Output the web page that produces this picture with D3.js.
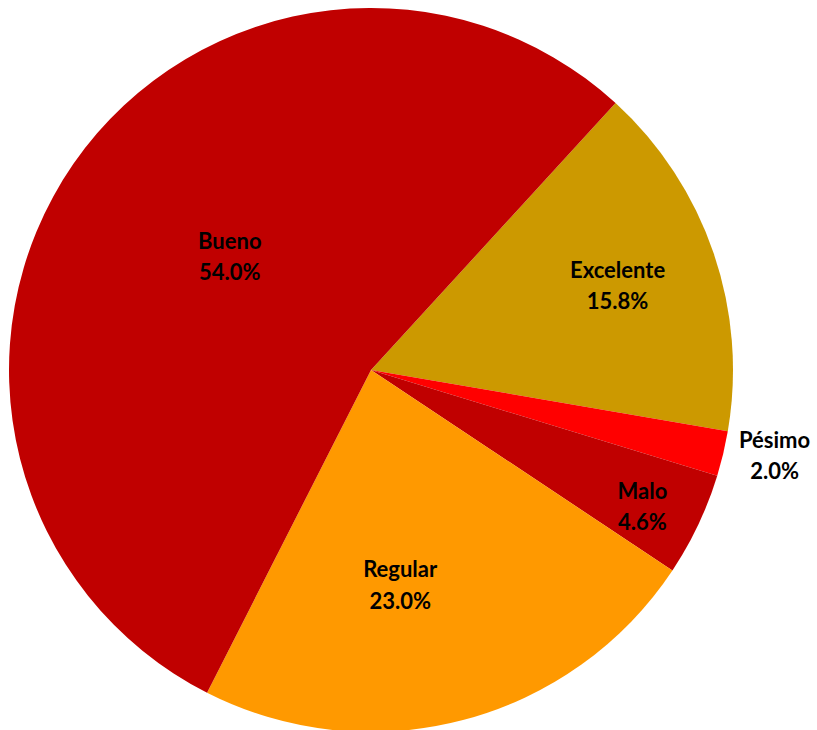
<!DOCTYPE html>
<html>
<head>
<meta charset="utf-8">
<script src="https://cdn.jsdelivr.net/npm/d3@7"></script>
<style>
  body { margin: 0; background: #fff; }
  svg { display: block; }
  .lbl { font-family: Lato, "Open Sans", sans-serif; font-weight: bold; font-size: 22px; fill: #000; }
</style>
</head>
<body>
<svg id="canvas" width="817" height="730"></svg>
<script>
// data, clockwise from the Excelente slice
let categories = ['Excelente', 'Pésimo', 'Malo', 'Regular', 'Bueno'];
let values = [15.8, 2.0, 4.6, 23.0, 54.0];
let colors = ['#CC9900', '#FF0000', '#C00000', '#FF9900', '#C00000'];

let width = 817, height = 730;
let cx = 371, cy = 370, radius = 362;

// label distance from centre as a fraction of the radius, plus angle shift (deg)
let labelLayout = {
    'Excelente': { r: 0.72, shift: 0 },
    'Pésimo': { r: 1.14, shift: -1.3 },
    'Malo': { r: 0.84, shift: 1.5 },
    'Regular': { r: 0.6, shift: 7 },
    'Bueno': { r: 0.5, shift: 4 }
};

let rows = categories.map((c, i) => ({ name: c, value: values[i], color: colors[i] }));

let canvas = d3.select('#canvas');
let g = canvas.append('g').attr('transform', `translate(${cx},${cy})`);

let start = 42.5 * Math.PI / 180;
let pie = d3.pie()
    .sort(null)
    .value(d => d.value)
    .startAngle(start)
    .endAngle(start + 2 * Math.PI);

let arc = d3.arc().innerRadius(0).outerRadius(radius);

let slices = pie(rows);

g.selectAll('path')
    .data(slices)
    .enter()
    .append('path')
    .attr('d', arc)
    .attr('fill', d => d.data.color);

let fmt = d3.format('.1f');

slices.forEach(d => {
    let lay = labelLayout[d.data.name];
    let a = (d.startAngle + d.endAngle) / 2 + lay.shift * Math.PI / 180;
    let r = radius * lay.r;
    let x = Math.sin(a) * r;
    let y = -Math.cos(a) * r;
    let t = g.append('text')
        .attr('class', 'lbl')
        .attr('text-anchor', 'middle')
        .attr('x', x)
        .attr('y', y);
    t.append('tspan').attr('x', x).attr('dy', '-0.36em').text(d.data.name);
    t.append('tspan').attr('x', x).attr('dy', '1.42em').text(fmt(d.data.value) + '%');
});
</script>
</body>
</html>
